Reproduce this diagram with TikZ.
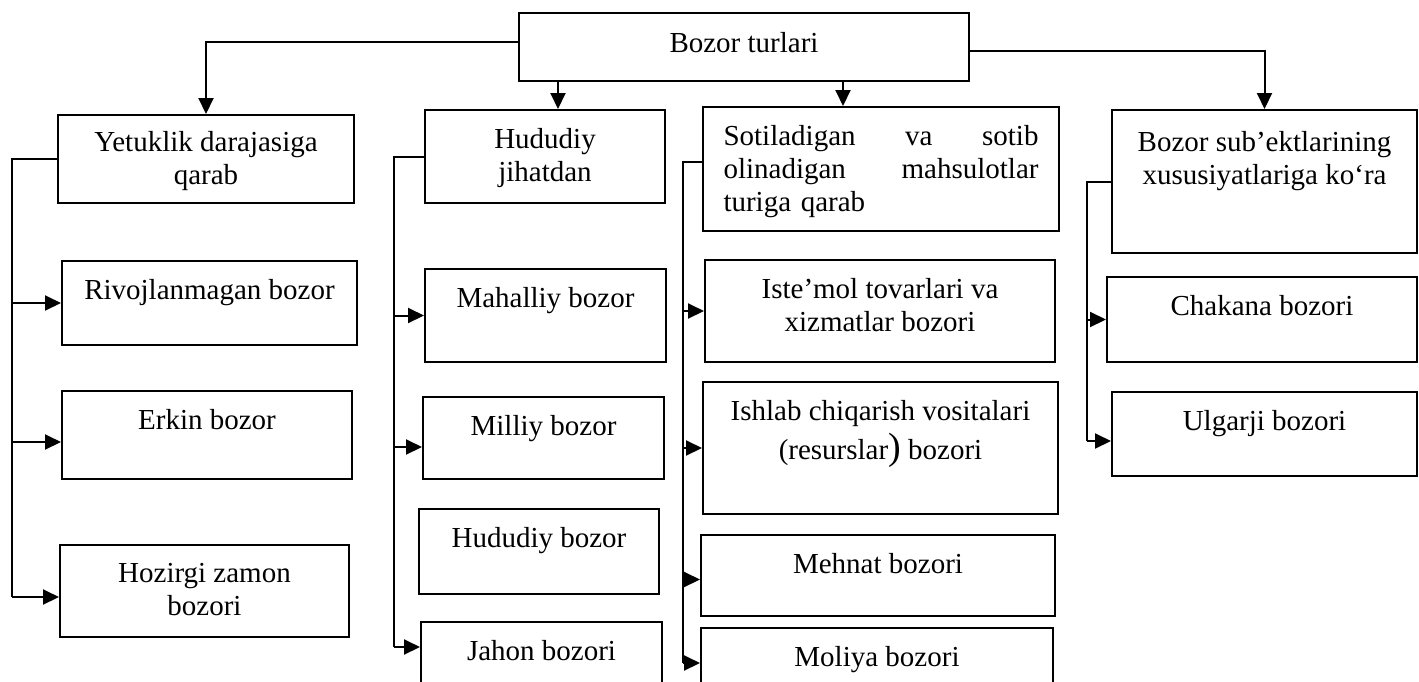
\documentclass[tikz,border=0pt]{standalone}
\usepackage{fontspec}
\setmainfont{Liberation Serif}
\usetikzlibrary{positioning,fit,arrows.meta}
\tikzset{
  box/.style={draw=black,line width=1pt,inner sep=0pt},
  lab/.style={anchor=north,inner sep=0pt,yshift=-9.5pt,align=center,
    font=\fontsize{14.5}{16.5}\selectfont},
  mid/.style={anchor=center,inner sep=0pt,align=center,
    font=\fontsize{14.5}{16.5}\selectfont},
  link/.style={draw=black,line width=1pt},
  arr/.style={link,-{Triangle[length=8pt,width=7.5pt]}},
}
\begin{document}
\begin{tikzpicture}[x=0.5pt,y=-0.5pt]
\useasboundingbox (0,0) rectangle (1419,681);
\clip (0,0) rectangle (1419,681);
% top row
\node[box,fit={(519,13)(969,81)},label={[mid,yshift=2pt]center:Bozor turlari}] (root) {};
\node[box,fit={(58,115)(354,203)},label={[mid,yshift=-1pt]center:Yetuklik darajasiga\\qarab}] (yet) {};
\node[box,fit={(425,110)(665,203)},label={[mid,yshift=-1pt]center:Hududiy\\jihatdan}] (hud) {};
\node[box,fit={(703,107)(1059,231)},label={[mid,yshift=-1.5pt,text width=157.5pt,align=left]center:
  Sotiladigan\hfill va\hfill sotib\\olinadigan\hfill mahsulotlar\\turiga qarab}] (sot) {};
\node[box,fit={(1112,110)(1417,253)},
  label={[lab,yshift=-1.5pt]north:Bozor sub’ektlarining\\xususiyatlariga ko‘ra}] (sub) {};
% Yetuklik darajasiga qarab
\node[box,fit={(62,261)(357,345)},label={[lab]north:Rivojlanmagan bozor}] (riv) {};
\node[box,fit={(62,391)(352,479)},label={[lab]north:Erkin bozor}] (erk) {};
\node[box,fit={(60,545)(349,637)},label={[lab]north:Hozirgi zamon\\bozori}] (hoz) {};
% Hududiy jihatdan
\node[box,fit={(425,269)(666,362)},label={[lab]north:Mahalliy bozor}] (mah) {};
\node[box,fit={(423,397)(664,479)},label={[lab]north:Milliy bozor}] (mil) {};
\node[box,fit={(419,509)(659,594)},label={[lab]north:Hududiy bozor}] (hbz) {};
\node[box,fit={(421,622)(662,700)},label={[lab]north:Jahon bozori}] (jah) {};
% mahsulotlar turiga qarab
\node[box,fit={(705,260)(1055,362)},label={[lab]north:Iste’mol tovarlari va\\xizmatlar bozori}] (ist) {};
\node[box,fit={(703,382)(1058,514)},
  label={[lab]north:Ishlab chiqarish vositalari\\[3pt](resurslar{\fontsize{19}{19}\selectfont)} bozori}] (ish) {};
\node[box,fit={(701,535)(1055,616)},label={[lab]north:Mehnat bozori}] (meh) {};
\node[box,fit={(701,628)(1053,700)},label={[lab]north:Moliya bozori}] (mol) {};
% sub'ektlar
\node[box,fit={(1107,277)(1417,362)},label={[lab]north:Chakana bozori}] (cha) {};
\node[box,fit={(1112,392)(1417,476)},label={[lab]north:Ulgarji bozori}] (ulg) {};
% arrows from the root
\coordinate (ah) at (558,0);
\coordinate (as) at (843,0);
\draw[arr] ([yshift=2.5pt]root.west) -| (yet.north);
\draw[arr] ([yshift=-2pt]root.east) -| (sub.north);
\draw[arr] (root.south -| ah) -- (hud.north -| ah);
\draw[arr] (root.south -| as) -- (sot.north -| as);
% branch lines
\coordinate (yb) at (12,597);
\coordinate (hb) at (394,647);
\coordinate (sb) at (683,663);
\coordinate (bb) at (1087,441);
\draw[link] (yet.west) -| (yb);
\draw[link] (hud.west) -| (hb);
\draw[link] ([yshift=3.5pt]sot.west) -| (sb);
\draw[link] (sub.west) -| (bb);
\path (erk.west) ++(0,7) coordinate (erk-in)
      (mil.west) ++(0,9) coordinate (mil-in)
      (meh.west) ++(0,4) coordinate (meh-in);
\draw[arr] (yb |- riv.west) -- (riv.west);
\draw[arr] (yb |- erk-in) -- (erk-in);
\draw[arr] (yb) -- (hoz.west |- yb);
\draw[arr] (hb |- mah.west) -- (mah.west);
\draw[arr] (hb |- mil-in) -- (mil-in);
\draw[arr] (hb) -- (jah.west |- hb);
\draw[arr] (sb |- ist.west) -- (ist.west);
\draw[arr] (sb |- ish.west) -- (ish.west);
\draw[arr] (sb |- meh-in) -- (meh-in);
\draw[arr] (sb) -- (mol.west |- sb);
\draw[arr] (bb |- cha.west) -- (cha.west);
\draw[arr] (bb) -- (ulg.west |- bb);
\end{tikzpicture}
\end{document}
